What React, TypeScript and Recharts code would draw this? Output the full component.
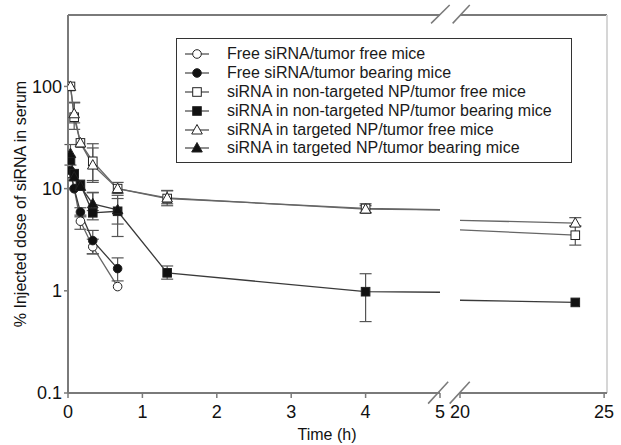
import React from "react";
import {
  LineChart,
  Line,
  XAxis,
  YAxis,
  ErrorBar,
  ReferenceLine,
  Legend,
} from "recharts";

// sampling times (h): 2, 5, 10, 20, 40, 80 min, 4 h, 24 h
const TIMES = [0.033, 0.083, 0.167, 0.333, 0.667, 1.333, 4, 24];

type Err = [number, number] | null;

const FREE_TF = [14, 10, 4.8, 2.7, 1.1];
const FREE_TF_ERR: Err[] = [null, null, [0.8, 0.7], [0.4, 0.5], null];

const FREE_TB = [15, 10, 5.9, 3.1, 1.65];
const FREE_TB_ERR: Err[] = [null, null, [0.6, 0.6], [0.8, 0.8], [0.4, 0.45]];

const NT_TF = [100, 50, 28, 18.5, 10, 8, 6.4, 3.5];
const NT_TF_ERR: Err[] = [null, [12, 20], null, [7, 9], [1, 1.5], [1.2, 1.5], [0.6, 0.7], [0.7, 0.8]];

const NT_TB = [19, 14, 11, 5.8, 6, 1.5, 0.98, 0.77];
const NT_TB_ERR: Err[] = [null, null, null, [0.85, 3.4], [2.6, 2], [0.2, 0.25], [0.48, 0.49], null];

const T_TF = [100, 54, 28, 17, 10, 8.1, 6.3, 4.6];
const T_TF_ERR: Err[] = [null, [10, 15], null, [5, 8], null, [1, 1.5], [0.5, 0.5], [0.3, 0.6]];

const T_TB = [22, 13, 10.5, 7.1, 6.2];
const T_TB_ERR: Err[] = [[5, 5], null, null, [1, 2], [1.7, 2.4]];

const LEFT_TICKS = [0, 1, 2, 3, 4, 5];
const RIGHT_TICKS = [20, 25];
const Y_TICKS = [0.1, 1, 10, 100];
const Y_DOMAIN: [number, number] = [0.1, 500];

// broken time axis: two panels, 0-5 h and 20-25 h
const LEFT_DOMAIN: [number, number] = [0, 5];
const RIGHT_DOMAIN: [number, number] = [20, 25.1];

const FONT = "'Liberation Sans', Arial, sans-serif";
const AXIS = "#7a7a7a";

type Shape = "circle" | "square" | "triangle";

const SERIES: { name: string; values: number[]; err: Err[]; shape: Shape; filled: boolean }[] = [
  { name: "Free siRNA/tumor free mice", values: FREE_TF, err: FREE_TF_ERR, shape: "circle", filled: false },
  { name: "Free siRNA/tumor bearing mice", values: FREE_TB, err: FREE_TB_ERR, shape: "circle", filled: true },
  { name: "siRNA in non-targeted NP/tumor free mice", values: NT_TF, err: NT_TF_ERR, shape: "square", filled: false },
  { name: "siRNA in non-targeted NP/tumor bearing mice", values: NT_TB, err: NT_TB_ERR, shape: "square", filled: true },
  { name: "siRNA in targeted NP/tumor free mice", values: T_TF, err: T_TF_ERR, shape: "triangle", filled: false },
  { name: "siRNA in targeted NP/tumor bearing mice", values: T_TB, err: T_TB_ERR, shape: "triangle", filled: true },
];

function Marker({ cx, cy, shape, filled }: { cx: number; cy: number; shape: Shape; filled: boolean }) {
  const fill = filled ? "#111" : "#fff";
  const stroke = "#222";
  if (shape === "circle") return <circle cx={cx} cy={cy} r={4.3} fill={fill} stroke={stroke} />;
  if (shape === "square")
    return <rect x={cx - 4.3} y={cy - 4.3} width={8.6} height={8.6} fill={fill} stroke={stroke} />;
  return (
    <polygon
      points={`${cx},${cy - 5.5} ${cx + 5.3},${cy + 4} ${cx - 5.3},${cy + 4}`}
      fill={fill}
      stroke={stroke}
    />
  );
}

function LegendBox() {
  return (
    <div
      style={{
        boxSizing: "border-box",
        width: 396,
        height: 125,
        border: "1.5px solid #333",
        background: "#fff",
        padding: "6px 0 0 8px",
        fontFamily: FONT,
        fontSize: 16,
        color: "#1a1a1a",
      }}
    >
      {SERIES.map((s) => (
        <div key={s.name} style={{ display: "flex", alignItems: "center", height: 18.8 }}>
          <svg width={24} height={12} style={{ flex: "none" }}>
            <line x1={0} y1={6} x2={24} y2={6} stroke="#444" strokeWidth={1.2} />
            <Marker cx={12} cy={6} shape={s.shape} filled={s.filled} />
          </svg>
          <span style={{ marginLeft: 18, whiteSpace: "nowrap" }}>{s.name}</span>
        </div>
      ))}
    </div>
  );
}

const rows = (s: (typeof SERIES)[number]) =>
  s.values.map((v, i) => ({ t: TIMES[i], y: v, err: s.err[i] }));

const tickStyle = { fontSize: 18, fill: "#111", fontFamily: FONT };

function seriesLines(lo: number, hi: number) {
  return SERIES.map((s) => (
    <Line
      key={s.name}
      name={s.name}
      data={rows(s)}
      dataKey="y"
      stroke={s.filled ? "#3a3a3a" : "#666"}
      strokeWidth={1.3}
      isAnimationActive={false}
      dot={(p: any) => (
        <Marker key={`${s.name}-${p.index}`} cx={p.cx} cy={p.cy} shape={s.shape} filled={s.filled} />
      )}
      activeDot={false}
    >
      <ErrorBar
        dataKey={(d: any) => (d.t >= lo && d.t <= hi ? d.err : null)}
        direction="y"
        width={6}
        stroke="#555"
        strokeWidth={1.2}
        isAnimationActive={false}
      />
    </Line>
  ));
}

const slash = (x0: number, x1: number, y0: number, y1: number) => [
  { x: x0, y: y0 },
  { x: x1, y: y1 },
];

export default function App() {
  return (
    <div style={{ position: "absolute", left: 0, top: 0, width: 621, height: 445, background: "#fff" }}>
      {/* left panel 0-5 h */}
      <div style={{ position: "absolute", left: 0, top: 0 }}>
        <LineChart width={621} height={445} margin={{ top: 15, right: 181, bottom: 0, left: 0 }}>
          <XAxis
            type="number"
            dataKey="t"
            domain={LEFT_DOMAIN}
            allowDataOverflow
            ticks={LEFT_TICKS}
            interval={0}
            axisLine={{ stroke: AXIS, strokeWidth: 2 }}
            tickLine={{ stroke: AXIS, strokeWidth: 1.5 }}
            tickSize={5}
            tickMargin={7}
            tick={tickStyle}
            height={52}
            label={(p: any) => (
              <text
                x={p.viewBox.x + 259}
                y={p.viewBox.y + 41}
                textAnchor="middle"
                dominantBaseline="central"
                fontSize={16}
                fontFamily={FONT}
                fill="#111"
              >
                Time (h)
              </text>
            )}
          />
          <YAxis
            type="number"
            scale="log"
            domain={Y_DOMAIN}
            allowDataOverflow
            ticks={Y_TICKS}
            interval={0}
            tickFormatter={(v: number) => String(v)}
            axisLine={{ stroke: AXIS, strokeWidth: 2 }}
            tickLine={{ stroke: AXIS, strokeWidth: 1.5 }}
            tickSize={4}
            tickMargin={2}
            tick={tickStyle}
            width={68}
            label={(p: any) => {
              const cx = p.viewBox.x + 20;
              const cy = p.viewBox.y + p.viewBox.height / 2;
              return (
                <text
                  x={cx}
                  y={cy}
                  transform={`rotate(-90 ${cx} ${cy})`}
                  textAnchor="middle"
                  dominantBaseline="central"
                  fontSize={16}
                  fontFamily={FONT}
                  fill="#111"
                >
                  % Injected dose of siRNA in serum
                </text>
              );
            }}
          />
          {seriesLines(0, 5)}

          <ReferenceLine y={500} stroke={AXIS} strokeWidth={2} />

          {/* break slashes, bottom and top */}
          <ReferenceLine segment={slash(4.84, 5.11, 0.0787, 0.129)} stroke={AXIS} strokeWidth={1.5} ifOverflow="visible" />
          <ReferenceLine segment={slash(5.13, 5.4, 0.0787, 0.129)} stroke={AXIS} strokeWidth={1.5} ifOverflow="visible" />
          <ReferenceLine segment={slash(4.88, 5.13, 414, 626)} stroke={AXIS} strokeWidth={1.5} ifOverflow="visible" />
          <ReferenceLine segment={slash(5.17, 5.4, 414, 626)} stroke={AXIS} strokeWidth={1.5} ifOverflow="visible" />

          <Legend
            layout="vertical"
            align="center"
            verticalAlign="middle"
            wrapperStyle={{ left: 176, top: 38, width: 396, height: 125 }}
            content={() => <LegendBox />}
          />
        </LineChart>
      </div>

      {/* right panel 20-25 h */}
      <div style={{ position: "absolute", left: 0, top: 0 }}>
        <LineChart width={621} height={445} margin={{ top: 15, right: 14, bottom: 0, left: 460 }}>
          <XAxis
            type="number"
            dataKey="t"
            domain={RIGHT_DOMAIN}
            allowDataOverflow
            ticks={RIGHT_TICKS}
            interval={0}
            axisLine={{ stroke: AXIS, strokeWidth: 2 }}
            tickLine={{ stroke: AXIS, strokeWidth: 1.5 }}
            tickSize={5}
            tickMargin={7}
            tick={tickStyle}
            height={52}
          />
          <YAxis type="number" scale="log" domain={Y_DOMAIN} allowDataOverflow hide width={0} />
          {seriesLines(20, 25)}
          <ReferenceLine y={500} stroke={AXIS} strokeWidth={2} />
          <ReferenceLine x={25.1} stroke="#d6d6d6" strokeWidth={2} />
        </LineChart>
      </div>
    </div>
  );
}
